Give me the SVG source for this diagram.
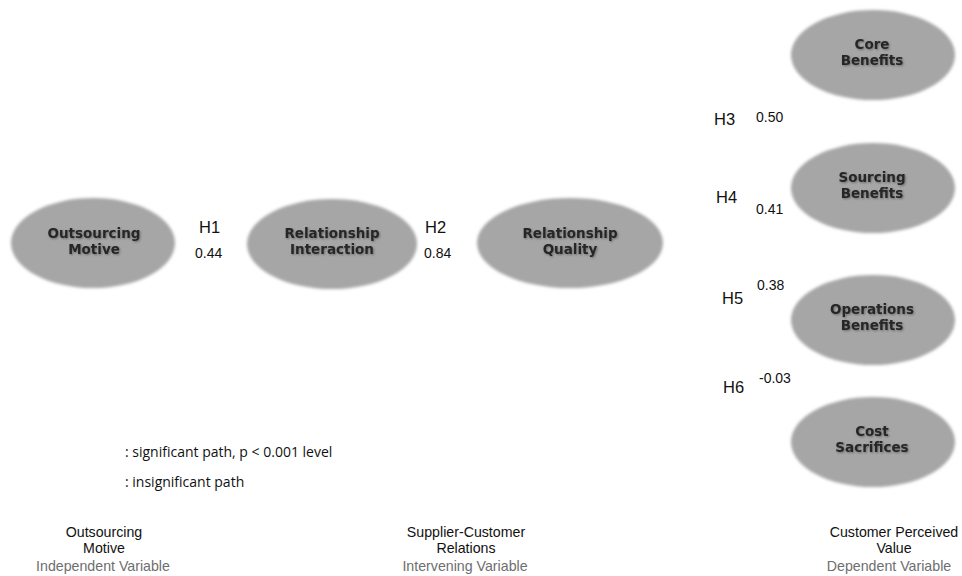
<svg xmlns="http://www.w3.org/2000/svg" width="962" height="576" viewBox="0 0 962 576">
<defs>
<filter id="soft" x="-20%" y="-20%" width="140%" height="140%">
<feGaussianBlur stdDeviation="1.5"/>
</filter>
<filter id="ts" x="-10%" y="-30%" width="120%" height="160%">
<feGaussianBlur in="SourceAlpha" stdDeviation="1" result="b"/>
<feOffset in="b" dx="0.5" dy="1" result="o"/>
<feFlood flood-color="#000000" flood-opacity="0.35"/>
<feComposite in2="o" operator="in" result="s"/>
<feMerge><feMergeNode in="s"/><feMergeNode in="SourceGraphic"/></feMerge>
</filter>
</defs>
<style>
.node ellipse{fill:#a6a6a6;filter:url(#soft)}
.nt{font-family:"DejaVu Sans",sans-serif;font-weight:bold;font-size:13.5px;fill:#262626;text-anchor:middle;filter:url(#ts)}
.h{font-family:"Liberation Sans",sans-serif;font-size:16.5px;fill:#111}
.c{font-family:"Liberation Sans",sans-serif;font-size:14px;fill:#111}
.lg{font-family:"Open Sans",sans-serif;font-size:14px;fill:#111}
.bl{font-family:"Liberation Sans",sans-serif;font-size:14.2px;fill:#111;text-anchor:middle}
.bg{font-family:"Liberation Sans",sans-serif;font-size:14.2px;fill:#6e6e6e;text-anchor:middle}
</style>
<rect width="962" height="576" fill="#ffffff"/>
<g id="connectors"></g>
<g id="n-om" class="node"><ellipse cx="93" cy="243" rx="82" ry="45"/><text class="nt" x="94" y="238">Outsourcing</text><text class="nt" x="94" y="254">Motive</text></g>
<g id="n-ri" class="node"><ellipse cx="332" cy="244" rx="85" ry="45"/><text class="nt" x="332" y="238">Relationship</text><text class="nt" x="332" y="254">Interaction</text></g>
<g id="n-rq" class="node"><ellipse cx="570" cy="243" rx="93" ry="45"/><text class="nt" x="570" y="238">Relationship</text><text class="nt" x="570" y="254">Quality</text></g>
<g id="n-cb" class="node"><ellipse cx="873" cy="55" rx="82" ry="45"/><text class="nt" x="872" y="49">Core</text><text class="nt" x="872" y="65">Benefits</text></g>
<g id="n-sb" class="node"><ellipse cx="873" cy="188" rx="82" ry="45"/><text class="nt" x="872" y="182">Sourcing</text><text class="nt" x="872" y="198">Benefits</text></g>
<g id="n-ob" class="node"><ellipse cx="873" cy="320" rx="82" ry="45"/><text class="nt" x="872" y="314">Operations</text><text class="nt" x="872" y="330">Benefits</text></g>
<g id="n-cs" class="node"><ellipse cx="873" cy="442" rx="82" ry="45"/><text class="nt" x="872" y="436">Cost</text><text class="nt" x="872" y="452">Sacrifices</text></g>
<g id="labels">
<text class="h" x="199" y="233">H1</text><text class="c" x="195" y="258">0.44</text>
<text class="h" x="425" y="233">H2</text><text class="c" x="424" y="258">0.84</text>
<text class="h" x="714" y="125">H3</text><text class="c" x="756" y="122">0.50</text>
<text class="h" x="716" y="203">H4</text><text class="c" x="756" y="214">0.41</text>
<text class="h" x="722" y="304">H5</text><text class="c" x="757" y="290">0.38</text>
<text class="h" x="723" y="393">H6</text><text class="c" x="759" y="383">-0.03</text>
</g>
<g id="legend">
<text class="lg" x="125" y="457">: significant path, p &lt; 0.001 level</text>
<text class="lg" x="125" y="487">: insignificant path</text>
</g>
<g id="axis">
<text class="bl" x="104" y="537">Outsourcing</text><text class="bl" x="104" y="553">Motive</text><text class="bg" x="103" y="571">Independent Variable</text>
<text class="bl" x="466" y="537">Supplier-Customer</text><text class="bl" x="466" y="553">Relations</text><text class="bg" x="465" y="571">Intervening Variable</text>
<text class="bl" x="894" y="537">Customer Perceived</text><text class="bl" x="894" y="553">Value</text><text class="bg" x="889" y="571">Dependent Variable</text>
</g>
</svg>
